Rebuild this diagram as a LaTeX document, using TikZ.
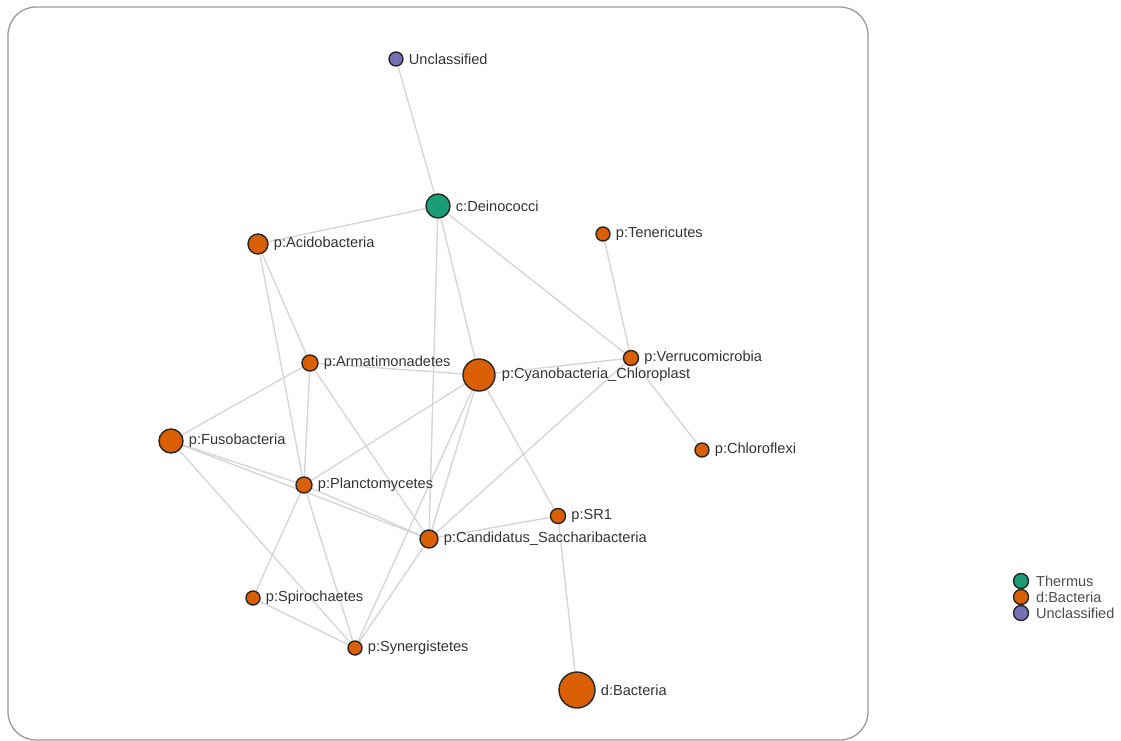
\documentclass[tikz,border=0pt]{standalone}
\usepackage{fontspec}
\setmainfont{Liberation Sans}
\usetikzlibrary{backgrounds}
\definecolor{bact}{HTML}{D95F02}
\definecolor{therm}{HTML}{1B9E77}
\definecolor{uncl}{HTML}{7570B3}
\definecolor{edgec}{HTML}{D6D6D6}
\definecolor{framec}{HTML}{9A9A9A}
\definecolor{txt}{HTML}{333333}
\tikzset{
  vtx/.style={circle, draw=black!85, line width=1.4pt, inner sep=0pt, minimum size=#1},
  lab/.style={text=txt, font=\fontsize{14.6}{16}\selectfont, inner sep=1pt, anchor=west},
  lnk/.style={draw=edgec, line width=1.4pt},
  legtxt/.style={text=black!70, font=\fontsize{14.5}{16}\selectfont, inner sep=0pt, anchor=west},
}
\begin{document}
\begin{tikzpicture}[x=1pt,y=-1pt]
\useasboundingbox (0,0) rectangle (1121,741);
\draw[framec, line width=1.3pt, rounded corners=28pt] (8,7) rectangle (868,740);

% nodes
\node[vtx=14pt, fill=uncl]  (uncl) at (396,59) {};
\node[vtx=24pt, fill=therm] (dein) at (438,206) {};
\node[vtx=20pt, fill=bact]  (acid) at (258,244) {};
\node[vtx=14pt, fill=bact]  (tene) at (603,234) {};
\node[vtx=16pt, fill=bact]  (arma) at (310,363) {};
\node[vtx=32pt, fill=bact]  (cyan) at (479,375) {};
\node[vtx=15pt, fill=bact]  (verr) at (631,358) {};
\node[vtx=24pt, fill=bact]  (fuso) at (171,441) {};
\node[vtx=14pt, fill=bact]  (chlo) at (702,450) {};
\node[vtx=16pt, fill=bact]  (plan) at (304,485) {};
\node[vtx=15pt, fill=bact]  (sr1)  at (558,516) {};
\node[vtx=18pt, fill=bact]  (cand) at (429,539) {};
\node[vtx=14pt, fill=bact]  (spir) at (253,598) {};
\node[vtx=14pt, fill=bact]  (syne) at (355,648) {};
\node[vtx=36pt, fill=bact]  (dbac) at (577,690) {};

% labels
\node[lab] (luncl) at ([xshift=4pt]uncl.east) {Unclassified};
\node[lab] (ldein) at ([xshift=4pt]dein.east) {c:Deinococci};
\node[lab] (lacid) at ([xshift=4pt]acid.east) {p:Acidobacteria};
\node[lab] (ltene) at ([xshift=4pt]tene.east) {p:Tenericutes};
\node[lab] (larma) at ([xshift=4pt]arma.east) {p:Armatimonadetes};
\node[lab] (lcyan) at ([xshift=5pt]cyan.east) {p:Cyanobacteria\_Chloroplast};
\node[lab] (lverr) at ([xshift=4pt]verr.east) {p:Verrucomicrobia};
\node[lab] (lfuso) at ([xshift=4pt]fuso.east) {p:Fusobacteria};
\node[lab] (lchlo) at ([xshift=4pt]chlo.east) {p:Chloroflexi};
\node[lab] (lplan) at ([xshift=4pt]plan.east) {p:Planctomycetes};
\node[lab] (lsr1)  at ([xshift=4pt]sr1.east)  {p:SR1};
\node[lab] (lcand) at ([xshift=4pt]cand.east) {p:Candidatus\_Saccharibacteria};
\node[lab] (lspir) at ([xshift=4pt]spir.east) {p:Spirochaetes};
\node[lab] (lsyne) at ([xshift=4pt]syne.east) {p:Synergistetes};
\node[lab] (ldbac) at ([xshift=4pt]dbac.east) {d:Bacteria};

% edges
\begin{scope}[on background layer]
\draw[lnk] (uncl) -- (dein);
\draw[lnk] (dein) -- (acid);
\draw[lnk] (dein) -- (cand);
\draw[lnk] (dein) -- (cyan);
\draw[lnk] (dein) -- (verr);
\draw[lnk] (tene) -- (verr);
\draw[lnk] (verr) -- (chlo);
\draw[lnk] (verr) -- (cyan);
\draw[lnk] (verr) -- (cand);
\draw[lnk] (acid) -- (plan);
\draw[lnk] (acid) -- (arma);
\draw[lnk] (arma) -- (cyan);
\draw[lnk] (arma) -- (fuso);
\draw[lnk] (arma) -- (plan);
\draw[lnk] (arma) -- (cand);
\draw[lnk] (fuso) -- (plan);
\draw[lnk] (fuso) -- (cand);
\draw[lnk] (fuso) -- (syne);
\draw[lnk] (cyan) -- (plan);
\draw[lnk] (cyan) -- (cand);
\draw[lnk] (cyan) -- (sr1);
\draw[lnk] (cyan) -- (syne);
\draw[lnk] (plan) -- (cand);
\draw[lnk] (plan) -- (spir);
\draw[lnk] (plan) -- (syne);
\draw[lnk] (spir) -- (syne);
\draw[lnk] (cand) -- (syne);
\draw[lnk] (cand) -- (sr1);
\draw[lnk] (sr1) -- (dbac);
\end{scope}

% legend
\node[vtx=15pt, fill=therm] (g1) at (1021,581) {};
\node[vtx=15pt, fill=bact]  (g2) at (1021,597) {};
\node[vtx=15pt, fill=uncl]  (g3) at (1021,613) {};
\node[legtxt] (t1) at (1036,581) {Thermus};
\node[legtxt] (t2) at (1036,597) {d:Bacteria};
\node[legtxt] (t3) at (1036,613) {Unclassified};
\end{tikzpicture}
\end{document}
